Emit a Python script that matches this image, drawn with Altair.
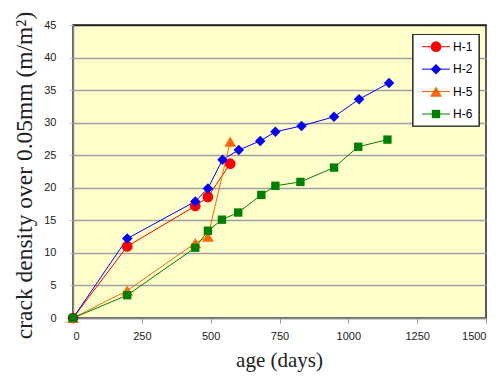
import altair as alt
import pandas as pd

series_names = ["H-1", "H-2", "H-5", "H-6"]
colors = ["#FF0000", "#0000FF", "#FF6600", "#008000"]
shapes = ["circle", "diamond", "triangle-up", "square"]
marker_sizes = [115, 110, 140, 70]

h1_age = [0, 197, 444, 490, 571]
h1_val = [0, 11.0, 17.2, 18.6, 23.7]
h2_age = [0, 197, 444, 490, 543, 602, 680, 735, 830, 948, 1039, 1148]
h2_val = [0, 12.2, 17.9, 19.9, 24.3, 25.8, 27.2, 28.6, 29.5, 30.9, 33.6, 36.1]
h5_age = [0, 197, 444, 490, 571]
h5_val = [0, 4.2, 11.5, 12.5, 27.1]
h6_age = [0, 197, 444, 490, 541, 600, 684, 735, 826, 948, 1036, 1142]
h6_val = [0, 3.5, 10.8, 13.4, 15.1, 16.2, 18.9, 20.3, 20.9, 23.1, 26.3, 27.4]

x_ticks = [0, 250, 500, 750, 1000, 1250, 1500]
y_ticks = [0, 5, 10, 15, 20, 25, 30, 35, 40, 45]

rows = []
for name, ages, vals in [("H-1", h1_age, h1_val), ("H-2", h2_age, h2_val),
                         ("H-5", h5_age, h5_val), ("H-6", h6_age, h6_val)]:
    for a, v in zip(ages, vals):
        rows.append({"series": name, "age": a, "density": v})
df = pd.DataFrame(rows)
leg = pd.DataFrame({"series": series_names})

color_scale = alt.Scale(domain=series_names, range=colors)

x_axis = alt.Axis(values=x_ticks, title="age (days)", grid=False, format="d",
                  labelOverlap=False, tickSize=5, tickColor="#999", domainColor="#888",
                  domainWidth=1.5, labelPadding=7, titleFontSize=21,
                  titleX=206, titleY=42, titleBaseline="middle", titleAlign="center")
y_axis = alt.Axis(values=y_ticks, title="crack density over 0.05mm  (m/m²)",
                  grid=True, format="d", labelOverlap=False,
                  gridColor={"condition": {"test": "datum.value === 45", "value": "#222"},
                             "value": "#a0a0a0"},
                  gridWidth=1.5, tickSize=4, tickColor="#ccc",
                  domainColor="#888", domainWidth=1.5, labelPadding=13,
                  titleFontSize=23.5,
                  titleAngle=-90, titleX=-49, titleY=150,
                  titleBaseline="middle", titleAlign="center")
x_scale = alt.Scale(domain=[0, 1500], nice=False)
y_scale = alt.Scale(domain=[0, 45], nice=False)

x_enc = alt.X("age:Q", scale=x_scale, axis=x_axis)
y_enc = alt.Y("density:Q", scale=y_scale, axis=y_axis)

lines = alt.Chart(df).mark_line(strokeWidth=1).encode(
    x=x_enc, y=y_enc,
    color=alt.Color("series:N", scale=color_scale, legend=None),
    detail="series:N",
    order="age:Q",
)

point_layers = []
for name, shp, sz in zip(series_names, shapes, marker_sizes):
    point_layers.append(
        alt.Chart(df).transform_filter(alt.datum.series == name)
        .mark_point(filled=True, opacity=1, shape=shp, size=sz).encode(
            x=x_enc, y=y_enc,
            color=alt.Color("series:N", scale=color_scale, legend=None),
        )
    )
main = alt.layer(lines, *point_layers)

leg_y = alt.Y("series:N", scale=alt.Scale(type="point", domain=series_names,
                                          range=[21.7, 89], padding=0), axis=None)
box = alt.Chart(leg).mark_rect(fill="white", stroke="#333", strokeWidth=1.2).encode(
    x=alt.value(340), x2=alt.value(406), y=alt.value(9.5), y2=alt.value(101)
)
leg_lines = alt.Chart(leg).mark_rule(strokeWidth=1).encode(
    x=alt.value(349), x2=alt.value(377), y=leg_y,
    color=alt.Color("series:N", scale=color_scale, legend=None),
)
leg_point_layers = []
for name, shp, sz in zip(series_names, shapes, marker_sizes):
    leg_point_layers.append(
        alt.Chart(leg).transform_filter(alt.datum.series == name)
        .mark_point(filled=True, opacity=1, shape=shp, size=sz).encode(
            x=alt.value(363), y=leg_y,
            color=alt.Color("series:N", scale=color_scale, legend=None),
        )
    )
leg_text = alt.Chart(leg).mark_text(align="left", baseline="middle", fontSize=12,
                                     font="Liberation Sans", color="#000").encode(
    x=alt.value(380), y=leg_y, text="series:N"
)
legend = alt.layer(box, leg_lines, *leg_point_layers, leg_text)

chart = alt.layer(main, legend).resolve_scale(y="independent").properties(
    width=413, height=293,
    autosize=alt.AutoSizeParams(type="none"),
    padding={"left": 65, "top": 17, "right": 7, "bottom": 57},
).configure_view(
    fill="#FFFFCC", stroke="#222", strokeWidth=1.5
).configure_axis(
    labelFont="Liberation Sans", labelFontSize=11, labelColor="#222",
    titleFont="Liberation Serif", titleFontWeight="normal",
    titleColor="#222",
)

chart.save("out.html", embed_options={"renderer": "svg", "actions": False})
